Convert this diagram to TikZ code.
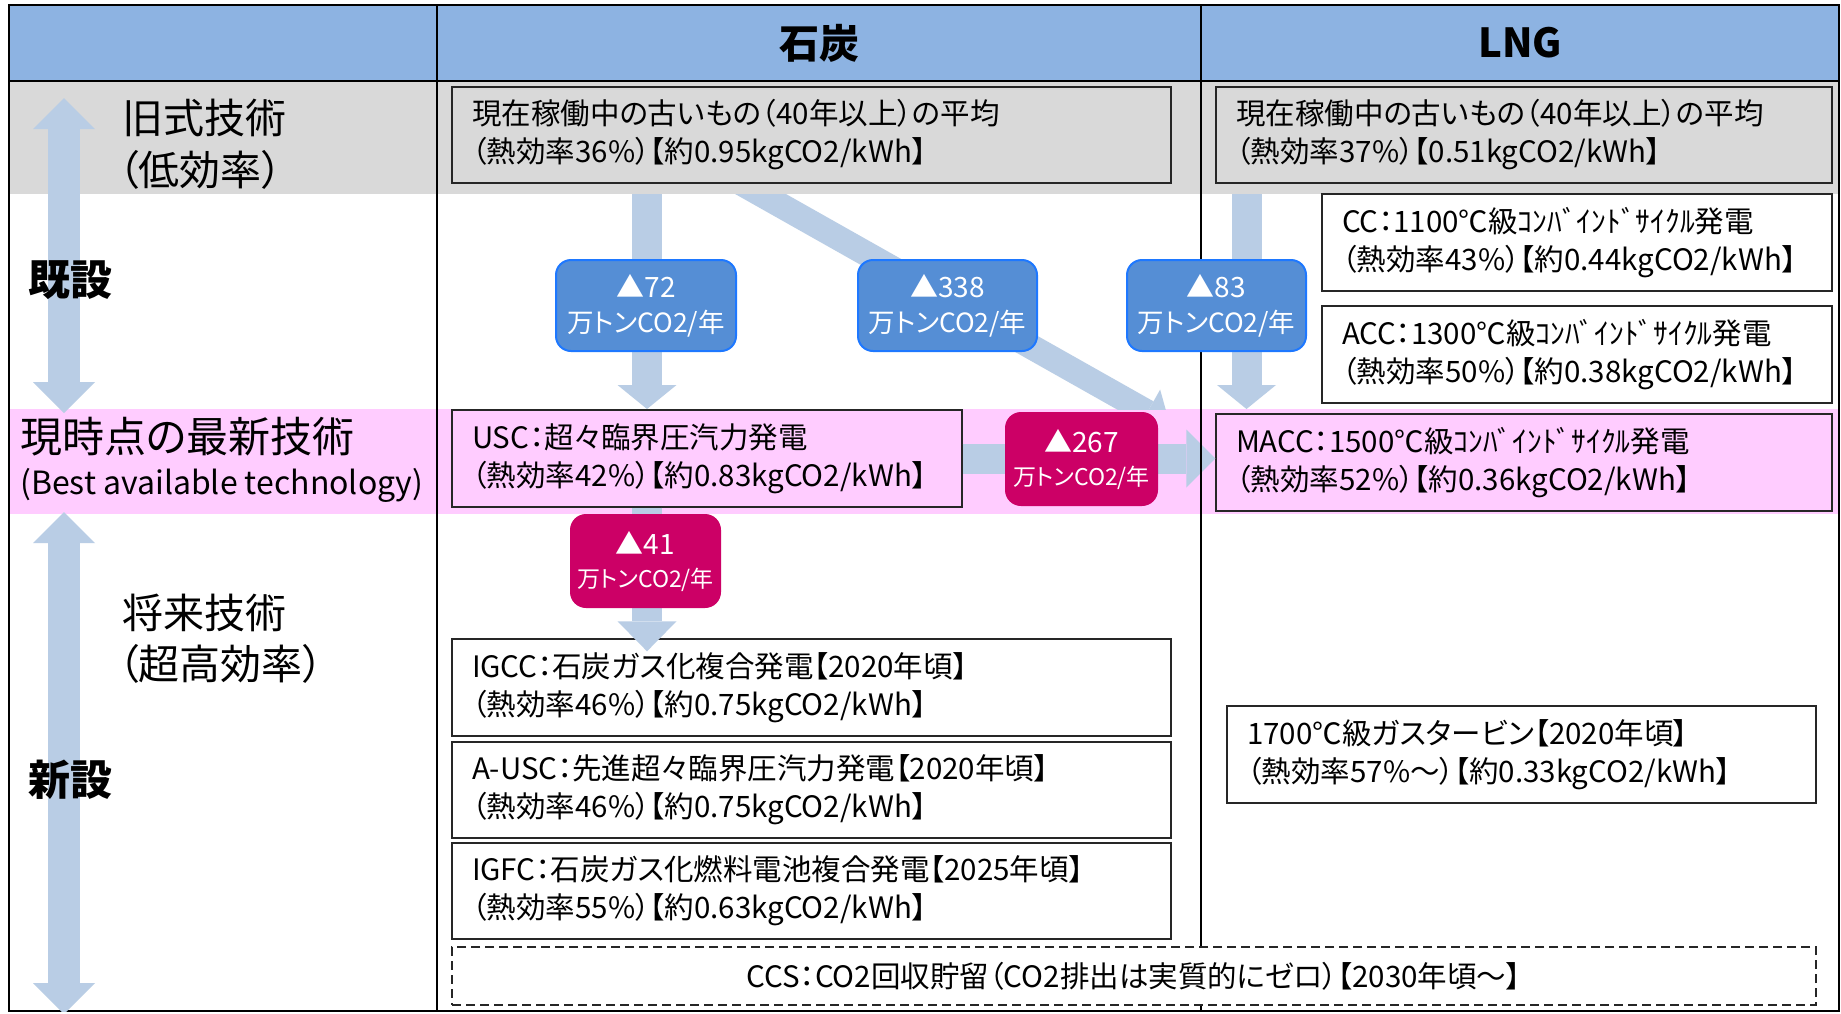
\documentclass[tikz,border=0pt]{standalone}
\usepackage{fontspec}
\setmainfont{Noto Sans CJK JP}[RawFeature=+palt]
\usetikzlibrary{arrows.meta}
\definecolor{hdrblue}{HTML}{8DB3E2}
\definecolor{bandgray}{HTML}{D9D9D9}
\definecolor{bandpink}{HTML}{FFCCFF}
\definecolor{flowblue}{HTML}{B9CDE5}
\definecolor{badgeblue}{HTML}{558ED5}
\definecolor{badgeedge}{HTML}{1E78FF}
\definecolor{badgemag}{HTML}{CC0066}
\begin{document}
\begin{tikzpicture}[x=1pt,y=-1pt,
  box/.style={draw=black!85,line width=1.4pt,rectangle,inner ysep=0pt,inner xsep=20pt,align=left,font=\fontsize{29.5}{38}\selectfont},
  badge/.style={rounded corners=15pt,line width=2pt,inner sep=0pt,align=center,text=white,font=\fontsize{26.5}{35}\selectfont,minimum height=91pt},
  flow/.style={draw=flowblue,line width=30pt,-{Triangle[width=59pt,length=24pt,line width=0pt]}},
  bigarrow/.style={draw=flowblue,line width=32pt,{Triangle[width=62pt,length=31pt,line width=0pt]}-{Triangle[width=62pt,length=31pt,line width=0pt]}},
  grid/.style={draw=black,line width=2.5pt},
  lbl/.style={inner sep=0pt,anchor=west,font=\fontsize{41}{48}\selectfont},
  lblb/.style={inner sep=0pt,anchor=west,font=\fontsize{42}{48}\selectfont\bfseries},
  hdrtxt/.style={inner sep=0pt,font=\fontsize{40}{48}\selectfont\bfseries}
]
\useasboundingbox (0,0) rectangle (1841,1013);
\fill[white] (0,0) rectangle (1841,1013);
% bands
\fill[hdrblue] (9,5) rectangle (1839,81);
\fill[bandgray] (9,81) rectangle (1839,194);
\fill[bandpink] (9,409) rectangle (1839,514);

% boxes
\node[box,fill=bandgray,minimum width=719pt,text width=679pt,minimum height=96pt] (coalold) at (811.5,135)
  {現在稼働中の古いもの（40年以上）の平均\\（熱効率36\%）【約0.95kgCO2/kWh】};
\node[box,fill=bandgray,minimum width=616pt,text width=576pt,minimum height=96pt] (lngold) at (1524,135)
  {現在稼働中の古いもの（40年以上）の平均\\（熱効率37\%）【0.51kgCO2/kWh】};
\node[box,fill=white,minimum width=510pt,text width=470pt,minimum height=97pt] (cc) at (1577,242.5)
  {CC：1100℃級ｺﾝﾊﾞｲﾝﾄﾞｻｲｸﾙ発電\\（熱効率43\%）【約0.44kgCO2/kWh】};
\node[box,fill=white,minimum width=510pt,text width=470pt,minimum height=97pt] (acc) at (1577,354.5)
  {ACC：1300℃級ｺﾝﾊﾞｲﾝﾄﾞｻｲｸﾙ発電\\（熱効率50\%）【約0.38kgCO2/kWh】};
\node[box,fill=bandpink,minimum width=510pt,text width=470pt,minimum height=97pt] (usc) at (707,458.5)
  {USC：超々臨界圧汽力発電\\（熱効率42\%）【約0.83kgCO2/kWh】};
\node[box,fill=bandpink,minimum width=616pt,text width=576pt,minimum height=97pt] (macc) at (1524,462.5)
  {MACC：1500℃級ｺﾝﾊﾞｲﾝﾄﾞｻｲｸﾙ発電\\（熱効率52\%）【約0.36kgCO2/kWh】};
\node[box,fill=white,minimum width=719pt,text width=679pt,minimum height=97pt] (igcc) at (811.5,687.5)
  {IGCC：石炭ガス化複合発電【2020年頃】\\（熱効率46\%）【約0.75kgCO2/kWh】};
\node[box,fill=white,minimum width=719pt,text width=679pt,minimum height=96pt] (ausc) at (811.5,790)
  {A-USC：先進超々臨界圧汽力発電【2020年頃】\\（熱効率46\%）【約0.75kgCO2/kWh】};
\node[box,fill=white,minimum width=719pt,text width=679pt,minimum height=96pt] (igfc) at (811.5,891)
  {IGFC：石炭ガス化燃料電池複合発電【2025年頃】\\（熱効率55\%）【約0.63kgCO2/kWh】};
\node[box,fill=white,minimum width=589pt,text width=549pt,minimum height=97pt] (gt1700) at (1521.5,754.5)
  {1700℃級ガスタービン【2020年頃】\\（熱効率57\%～）【約0.33kgCO2/kWh】};

% flow arrows
\coordinate (a72s) at (647,194);
\coordinate (a83s) at (1246.5,194);
\coordinate (pinktop) at (0,409);
\coordinate (d338s) at (718,170);
\coordinate (d338e) at (1170,425);
\draw[flow] (a72s) -- (a72s |- pinktop);
\draw[flow] (a83s) -- (a83s |- pinktop);
\begin{scope}
  \clip (0,194) rectangle (1841,409);
  \draw[flow,line width=25pt,-{Triangle[width=52pt,length=26pt,line width=0pt]}] (d338s) -- (d338e);
\end{scope}
\draw[flow,-{Triangle[width=58pt,length=29pt,line width=0pt]}] (usc.east) -- (usc.east -| macc.west);
\draw[flow,-{Triangle[width=59pt,length=30pt,line width=0pt]}] (a72s |- usc.south) -- ([yshift=-13pt]a72s |- igcc.north);

% grid lines
\draw[grid] (9,5) rectangle (1839,1011);
\draw[grid] (9,81) -- (1839,81);
\draw[grid] (437,5) -- (437,1011);
\draw[grid] (1201,5) -- (1201,1011);

% badges
\node[badge,fill=badgeblue,draw=badgeedge,minimum width=180pt] (b72) at (646,305.5)
  {{\fontsize{28}{35}\selectfont ▲72}\\万トンCO2/年};
\node[badge,fill=badgeblue,draw=badgeedge,minimum width=179pt] (b338) at (947.5,305.5)
  {{\fontsize{28}{35}\selectfont ▲338}\\万トンCO2/年};
\node[badge,fill=badgeblue,draw=badgeedge,minimum width=179pt] (b83) at (1216.5,305.5)
  {{\fontsize{28}{35}\selectfont ▲83}\\万トンCO2/年};
\node[badge,fill=badgemag,draw=badgemag,minimum width=151pt,minimum height=92pt,font=\fontsize{23}{33}\selectfont] (b267) at (1081.5,459)
  {{\fontsize{28}{33}\selectfont ▲267}\\万トンCO2/年};
\node[badge,fill=badgemag,draw=badgemag,minimum width=149pt,minimum height=92pt,font=\fontsize{23}{33}\selectfont] (b41) at (645.5,561)
  {{\fontsize{28}{33}\selectfont ▲41}\\万トンCO2/年};

% CCS box
\node[box,fill=white,dashed,dash pattern=on 9pt off 5pt,align=center,minimum width=1364pt,minimum height=58pt] (ccs) at (1134,976)
  {CCS：CO2回収貯留（CO2排出は実質的にゼロ）【2030年頃～】};

% left arrows
\coordinate (lu1) at (64,98);
\coordinate (lu2) at (64,413);
\coordinate (ll1) at (64,512);
\coordinate (ll2) at (64,1014);
\draw[bigarrow] (lu1) -- (lu2);
\begin{scope}
  \clip (0,0) rectangle (1841,1011);
  \draw[bigarrow] (ll1) -- (ll2);
\end{scope}

% left labels
\node[lbl] (old1) at (122,118) {旧式技術};
\node[lbl] (old2) at (118,170) {（低効率）};
\node[lblb] (kisetsu) at (28,280) {既設};
\node[lbl,font=\fontsize{42}{48}\selectfont] (bat1) at (20,437) {現時点の最新技術};
\node[lbl,font=\fontsize{32}{36}\selectfont] (bat2) at (20,485) {(Best available technology)};
\node[lbl] (fut1) at (122,613) {将来技術};
\node[lbl] (fut2) at (118,664) {（超高効率）};
\node[lblb] (shinsetsu) at (28,780) {新設};

% header texts
\node[hdrtxt] (hcoal) at (819,43) {石炭};
\node[hdrtxt] (hlng) at (1520,43) {LNG};
\end{tikzpicture}
\end{document}
